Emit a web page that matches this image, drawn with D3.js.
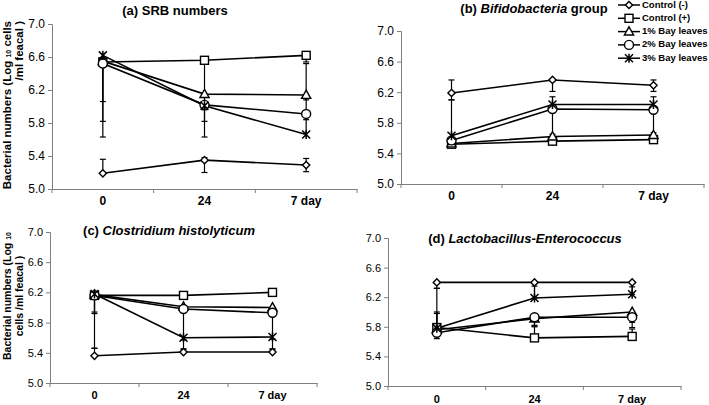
<!DOCTYPE html>
<html><head><meta charset="utf-8">
<script src="https://cdn.jsdelivr.net/npm/d3@7"></script>
<style>body{margin:0;background:#fff}svg{display:block}text{font-family:"Liberation Sans",Arial,sans-serif;fill:#000}</style>
</head><body><svg id="c" width="709" height="405"></svg>
<script>
const days = ["0", "24", "7 day"];
const seriesNames = ["Control (-)", "Control (+)", "1% Bay leaves", "2% Bay leaves", "3% Bay leaves"];
const yTicks = [5.0, 5.4, 5.8, 6.2, 6.6, 7.0];

// (a) SRB numbers — rows: series, cols: days
const srbValues = [[5.19, 5.35, 5.29], [6.54, 6.56, 6.62], [6.55, 6.15, 6.14], [6.52, 6.02, 5.91], [6.62, 6.01, 5.66]];
const srbErrUp = [[0.17, 0.03, 0.08], [0, 0, 0], [0, 0, 0], [0, 0, 0], [0, 0, 0.86]];
const srbErrDown = [[0, 0.15, 0.08], [0.91, 0.93, 0.08], [0.73, 0.33, 0.06], [0.46, 0.05, 0.07], [0.05, 0.05, 0]];

// (b) Bifidobacteria group
const bifValues = [[6.19, 6.36, 6.29], [5.52, 5.56, 5.58], [5.53, 5.62, 5.64], [5.57, 5.98, 5.97], [5.63, 6.04, 6.04]];
const bifErrUp = [[0.17, 0, 0.07], [0.03, 0.03, 0.03], [0.03, 0.03, 0.03], [0.03, 0.03, 0.03], [0.47, 0.1, 0.1]];
const bifErrDown = [[0.09, 0.15, 0.08], [0.03, 0.03, 0.03], [0.03, 0.03, 0.03], [0, 0.4, 0.37], [0.03, 0.03, 0.03]];

// (c) Clostridium histolyticum
const cloValues = [[5.36, 5.41, 5.41], [6.16, 6.16, 6.20], [6.17, 6.01, 6.00], [6.16, 5.98, 5.93], [6.18, 5.60, 5.61]];
const cloErrUp = [[0.1, 0.04, 0.04], [0, 0, 0], [0, 0, 0], [0, 0, 0], [0, 0, 0]];
const cloErrDown = [[0, 0, 0], [0.22, 0, 0.04], [0.25, 0.05, 0.55], [0, 0.53, 0.03], [0.72, 0.03, 0.03]];

// (d) Lactobacillus-Enterococcus
const lacValues = [[6.40, 6.40, 6.40], [5.79, 5.65, 5.67], [5.76, 5.91, 6.00], [5.72, 5.93, 5.93], [5.78, 6.19, 6.24]];
const lacErrUp = [[0, 0, 0], [0.53, 0.15, 0.1], [0.24, 0, 0], [0, 0, 0], [0.2, 0.16, 0.1]];
const lacErrDown = [[0.08, 0.21, 0.16], [0, 0, 0], [0, 0.09, 0.14], [0.08, 0.12, 0.14], [0, 0, 0]];

const svg = d3.select("#c");
const AX = "#7f7f7f";

function marker(g, i, x, y) {
  const m = g.append("g").attr("transform", `translate(${x},${y})`);
  const sw = 1.4;
  if (i === 0) m.append("path").attr("d", "M0,-3.6L3.6,0L0,3.6L-3.6,0Z").attr("fill", "#fff").attr("stroke", "#000").attr("stroke-width", sw);
  if (i === 1) m.append("rect").attr("x", -4).attr("y", -4).attr("width", 8).attr("height", 8).attr("fill", "#fff").attr("stroke", "#000").attr("stroke-width", sw);
  if (i === 2) m.append("path").attr("d", "M0,-4.8L4.6,3.4L-4.6,3.4Z").attr("fill", "#fff").attr("stroke", "#000").attr("stroke-width", sw);
  if (i === 3) m.append("circle").attr("r", 4.5).attr("fill", "#fff").attr("stroke", "#000").attr("stroke-width", sw);
  if (i === 4) m.append("path").attr("d", "M-4,-4L4,4M-4,4L4,-4M0,-4.5L0,4.5").attr("fill", "none").attr("stroke", "#000").attr("stroke-width", 1.5);
}

function panel(cfg) {
  const {values, up, down, x0, x1, yBottom, yTop, tickFont, labFont, labY} = cfg;
  const g = svg.append("g");
  const x = d3.scaleBand().domain(days).range([x0, x1]).padding(0);
  const y = d3.scaleLinear().domain([5.0, 7.0]).range([yBottom, yTop]);

  const ya = g.append("g").attr("transform", `translate(${x0},0)`)
    .call(d3.axisLeft(y).tickValues(yTicks).tickFormat(d3.format(".1f")).tickSize(4).tickPadding(3));
  ya.select(".domain").attr("stroke", AX);
  ya.selectAll(".tick line").attr("stroke", AX);
  ya.selectAll(".tick text").style("font-size", tickFont + "px").style("font-family", '"Liberation Sans",Arial,sans-serif').attr("fill", "#000");

  const xa = g.append("g").attr("transform", `translate(0,${yBottom})`)
    .call(d3.axisBottom(x).tickSize(0).tickPadding(0));
  xa.select(".domain").attr("stroke", AX);
  xa.selectAll(".tick text").style("font-size", labFont + "px").style("font-weight", "bold")
    .style("font-family", '"Liberation Sans",Arial,sans-serif').attr("dy", null).attr("y", labY);
  const bounds = days.map(d => x(d)).concat([x1]);
  g.selectAll(".xt").data(bounds).join("line").attr("x1", d => d).attr("x2", d => d)
    .attr("y1", yBottom).attr("y2", yBottom + 4).attr("stroke", AX);

  values.forEach((row, si) => {
    row.forEach((v, di) => {
      const cx = x(days[di]) + x.bandwidth() / 2;
      const eu = up[si][di], ed = down[si][di];
      const w = 3;
      [[eu, 1], [ed, -1]].forEach(([e, s]) => {
        if (e > 0) {
          g.append("line").attr("x1", cx).attr("x2", cx).attr("y1", y(v)).attr("y2", y(v + s * e)).attr("stroke", "#000").attr("stroke-width", 1.2);
          g.append("line").attr("x1", cx - w).attr("x2", cx + w).attr("y1", y(v + s * e)).attr("y2", y(v + s * e)).attr("stroke", "#000").attr("stroke-width", 1.2);
        }
      });
    });
  });

  const line = d3.line().x((d, i) => x(days[i]) + x.bandwidth() / 2).y(d => y(d));
  values.forEach(row => {
    g.append("path").attr("d", line(row)).attr("fill", "none").attr("stroke", "#000").attr("stroke-width", 1.6);
  });
  values.forEach((row, si) => {
    row.forEach((v, di) => marker(g, si, x(days[di]) + x.bandwidth() / 2, y(v)));
  });
}

panel({values: srbValues, up: srbErrUp, down: srbErrDown, x0: 52, x1: 357, yBottom: 189, yTop: 24, tickFont: 12, labFont: 12, labY: 16});
panel({values: bifValues, up: bifErrUp, down: bifErrDown, x0: 401, x1: 704, yBottom: 184, yTop: 31, tickFont: 12, labFont: 12, labY: 16});
panel({values: cloValues, up: cloErrUp, down: cloErrDown, x0: 50, x1: 317, yBottom: 383, yTop: 232, tickFont: 11, labFont: 11, labY: 16});
panel({values: lacValues, up: lacErrUp, down: lacErrDown, x0: 388, x1: 681, yBottom: 386, yTop: 238, tickFont: 11, labFont: 11, labY: 17});

function title(x, y, parts, size) {
  const t = svg.append("text").attr("x", x).attr("y", y).attr("text-anchor", "middle")
    .attr("dominant-baseline", "middle").style("font-size", size + "px").style("font-weight", "bold");
  parts.forEach(p => t.append("tspan").text(p[0]).style("font-style", p[1] ? "italic" : "normal"));
}
title(175, 12, [["(a) SRB numbers", false]], 13);
title(534, 10, [["(b) ", false], ["Bifidobacteria", true], [" group", false]], 13);
title(169, 232, [["(c) ", false], ["Clostridium histolyticum", true]], 13);
title(525, 240, [["(d) ", false], ["Lactobacillus-Enterococcus", true]], 13);

function ytitle(x, y, anchor, size, lines) {
  lines.forEach((ln, k) => {
    const t = svg.append("text").attr("transform", `translate(${x + k * 12},${y}) rotate(-90)`)
      .attr("text-anchor", anchor).attr("dominant-baseline", "middle")
      .style("font-size", size + "px").style("font-weight", "bold");
    ln.forEach(p => {
      const s = t.append("tspan").text(p[0]);
      if (p[1]) s.style("font-size", "7px").attr("dy", 1);
      else if (p[2]) s.attr("dy", -1);
    });
  });
}
ytitle(8, 21, "end", 11.5, [[["Bacterial numbers (Log ", false], ["10", true], [" cells", false, true]], [["/ml feacal )", false]]]);
ytitle(8, 296, "middle", 10.5, [[["Bacterial numbers  (Log ", false], ["10", true]], [["cells /ml feacal )", false]]]);

const leg = svg.append("g");
seriesNames.forEach((n, i) => {
  const yy = 5 + i * 13.3;
  leg.append("line").attr("x1", 618).attr("x2", 640).attr("y1", yy).attr("y2", yy).attr("stroke", "#000").attr("stroke-width", 1.5);
  marker(leg, i, 629, yy);
  leg.append("text").attr("x", 642).attr("y", yy).attr("dominant-baseline", "middle")
    .style("font-size", "9.5px").style("font-weight", "bold").text(n);
});
</script></body></html>
